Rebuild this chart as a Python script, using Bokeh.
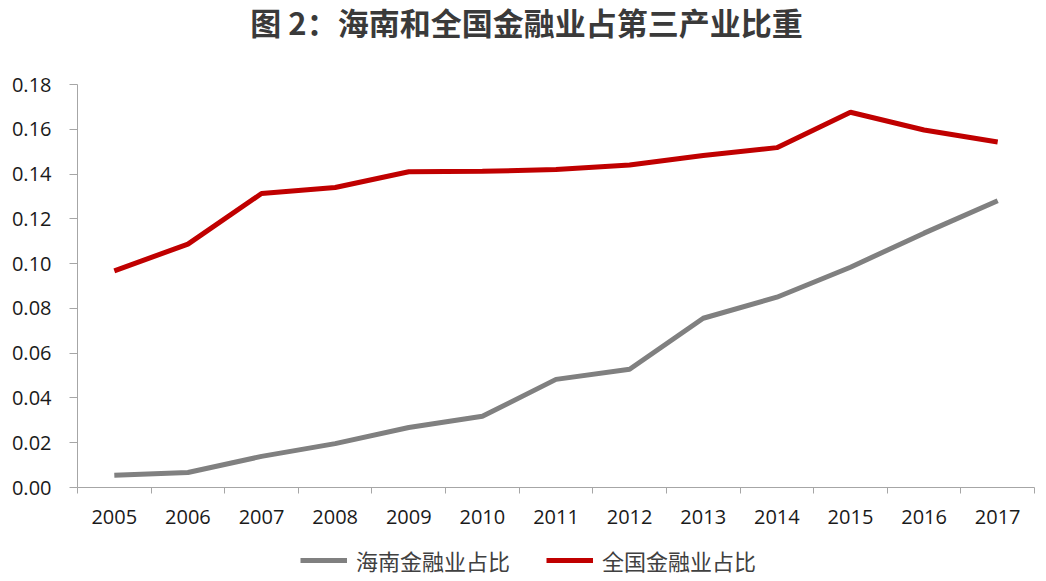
from bokeh.plotting import figure
from bokeh.layouts import column
from bokeh.models import Range1d, FixedTicker, Legend, LegendItem, CustomJSTickFormatter, Label
from bokeh.embed import file_html
from bokeh.resources import INLINE

years = ["2005", "2006", "2007", "2008", "2009", "2010", "2011", "2012", "2013", "2014", "2015", "2016", "2017"]
hainan = [0.0055, 0.0067, 0.0139, 0.0196, 0.0268, 0.0318, 0.0483, 0.0528, 0.0756, 0.0850, 0.0984, 0.1136, 0.1281]
national = [0.0968, 0.1087, 0.1313, 0.1340, 0.1410, 0.1412, 0.1420, 0.1440, 0.1483, 0.1518, 0.1676, 0.1597, 0.1543]
y_ticks = [0.0, 0.02, 0.04, 0.06, 0.08, 0.10, 0.12, 0.14, 0.16, 0.18]
series_names = ["海南金融业占比", "全国金融业占比"]
title_text = "图 2：海南和全国金融业占第三产业比重"

xs = list(range(len(years)))
gray = "#808080"
red = "#C00000"
W = 1040


def blank_strip(h):
    f = figure(width=W, height=h, output_backend="svg", toolbar_location=None,
               x_range=Range1d(0, 1), y_range=Range1d(0, 1),
               x_axis_location=None, y_axis_location=None,
               min_border_left=0, min_border_right=0, min_border_top=0, min_border_bottom=0)
    f.xgrid.grid_line_color = None
    f.ygrid.grid_line_color = None
    f.outline_line_color = None
    return f


# title strip (its frame is aligned with the chart frame by the column layout)
tt = blank_strip(46)
tt.add_layout(Label(x=449, y=25, x_units="screen", y_units="screen", text=title_text,
                    text_font="Noto Sans CJK SC", text_font_size="31px", text_font_style="bold",
                    text_color="#3a3a3a", text_align="center", text_baseline="middle"))

# main chart
p = figure(width=W, height=484, output_backend="svg", toolbar_location=None,
           x_range=Range1d(-0.5, len(years) - 0.5), y_range=Range1d(0, 0.18),
           min_border_left=77, min_border_right=6, min_border_top=38, min_border_bottom=43)
p.outline_line_color = None
p.xgrid.grid_line_color = None
p.ygrid.grid_line_color = None

p.line(xs, hainan, line_color=gray, line_width=5)
p.line(xs, national, line_color=red, line_width=5)

axis_color = "#A6A6A6"
font = "Open Sans"

xa = p.xaxis[0]
xa.ticker = FixedTicker(ticks=xs, minor_ticks=[i - 0.5 for i in range(len(years) + 1)])
xa.major_label_overrides = {i: y for i, y in enumerate(years)}
xa.major_tick_out = 0
xa.major_tick_in = 0
xa.minor_tick_out = 6
xa.minor_tick_in = 0
xa.minor_tick_line_color = axis_color
xa.axis_line_color = axis_color
xa.major_label_text_font = font
xa.major_label_text_font_size = "20px"
xa.major_label_text_color = "#1a1a1a"
xa.major_label_standoff = 16

ya = p.yaxis[0]
ya.ticker = FixedTicker(ticks=y_ticks)
ya.formatter = CustomJSTickFormatter(code="return tick.toFixed(2);")
ya.major_tick_out = 8
ya.major_tick_in = 0
ya.minor_tick_out = 0
ya.minor_tick_in = 0
ya.major_tick_line_color = axis_color
ya.axis_line_color = axis_color
ya.major_label_text_font = font
ya.major_label_text_font_size = "20px"
ya.major_label_text_color = "#1a1a1a"
ya.major_label_standoff = 18

# legend strip below the chart (sample lines lie outside its visible range)
lg = blank_strip(48)
l_hn = lg.line(x=[-5, -4], y=[-5, -5], line_color=gray, line_width=5)
l_cn = lg.line(x=[-5, -4], y=[-5, -5], line_color=red, line_width=5)

legend = Legend(items=[LegendItem(label=series_names[0], renderers=[l_hn]),
                       LegendItem(label=series_names[1], renderers=[l_cn])],
                location=(223, 2), orientation="horizontal",
                glyph_width=47, glyph_height=24, label_standoff=9, spacing=36,
                padding=0, margin=0, border_line_color=None, background_fill_alpha=0,
                label_text_font="Noto Sans CJK SC", label_text_font_size="22px",
                label_text_color="#404040", label_text_baseline="middle")
lg.add_layout(legend)

open("out.html", "w").write(file_html(column(tt, p, lg, spacing=0), INLINE))
